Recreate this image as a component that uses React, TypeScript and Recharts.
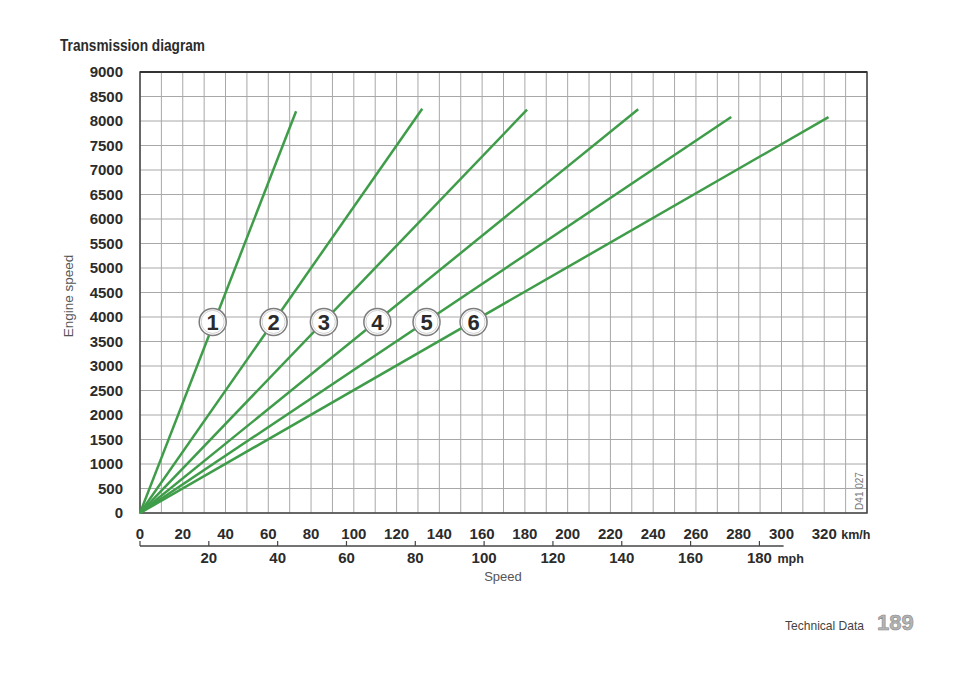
import React from "react"
import { ComposedChart, Line, Scatter, XAxis, YAxis, CartesianGrid, ReferenceArea, ReferenceLine } from "recharts"

// speed grid (km/h) - a line every 10, a label every 20
const KMH_TICKS = [0, 10, 20, 30, 40, 50, 60, 70, 80, 90, 100, 110, 120, 130, 140, 150, 160, 170, 180, 190, 200, 210, 220, 230, 240, 250, 260, 270, 280, 290, 300, 310, 320, 330, 340]
const KMH_LABELS = [0, 20, 40, 60, 80, 100, 120, 140, 160, 180, 200, 220, 240, 260, 280, 300, 320]
const MPH_TICKS = [0, 20, 40, 60, 80, 100, 120, 140, 160, 180]
const RPM_TICKS = [0, 500, 1000, 1500, 2000, 2500, 3000, 3500, 4000, 4500, 5000, 5500, 6000, 6500, 7000, 7500, 8000, 8500, 9000]

// gear lines run from the origin up to the cut-off point
const GEARS = ["1", "2", "3", "4", "5", "6"]
const GEAR_END_KMH = [73, 132, 181, 233, 276.5, 322]
const GEAR_END_RPM = [8200, 8250, 8230, 8240, 8080, 8080]
// numbered badges sitting on each line
const BADGE_KMH = [34, 62.5, 86, 111, 134, 156]
const BADGE_RPM = [3900, 3900, 3900, 3900, 3900, 3900]

const KMH_MAX = 340
const RPM_MAX = 9000
const KMH_PER_MPH = 1.609344
const MPH_MAX = KMH_MAX / KMH_PER_MPH
const MPH_LINE_END_KMH = 301

const W = 960
const H = 673
const MARGIN = { top: 72, right: 93, bottom: 97, left: 40 }
const YAXIS_W = 100
const PLOT_W = W - MARGIN.left - MARGIN.right - YAXIS_W

const GREEN = "#3f9d4a"
const INK = "#2b2b2b"
const FONT = "'Liberation Sans', Arial, sans-serif"

const gearData = GEARS.map((g, i) => [
  { kmh: 0, rpm: 0 },
  { kmh: GEAR_END_KMH[i], rpm: GEAR_END_RPM[i] },
])
const badgeData = GEARS.map((g, i) => ({ kmh: BADGE_KMH[i], rpm: BADGE_RPM[i], gear: g }))
// invisible series so the mph scale has a domain to work with
const mphSpan = [{ mph: 0, rpm: 0 }, { mph: MPH_MAX, rpm: 0 }]

function KmhTick({ x, y, payload }: any) {
  const v = payload.value
  if (!KMH_LABELS.includes(v)) return <g />
  return (
    <g>
      <text x={x} y={y + 26} textAnchor="middle" fontSize={15} fontWeight={700} fill={INK}>{v}</text>
      {v === 320 && <text x={x + 17} y={y + 26} fontSize={12.5} fontWeight={700} fill={INK}>km/h</text>}
    </g>
  )
}

function MphTick({ x, y, payload }: any) {
  const v = payload.value
  return (
    <g>
      <line x1={x} x2={x} y1={y} y2={y - 5} stroke="#444" strokeWidth={1.2} />
      {v > 0 && <text x={x} y={y + 17} textAnchor="middle" fontSize={15} fontWeight={700} fill={INK}>{v}</text>}
      {v === 180 && <text x={x + 18} y={y + 17} fontSize={12.5} fontWeight={700} fill={INK}>mph</text>}
    </g>
  )
}

function Badge({ cx, cy, payload }: any) {
  return (
    <g>
      <circle cx={cx} cy={cy} r={13.5} fill="#fff" stroke="#7d7d7d" strokeWidth={1.5} />
      <circle cx={cx} cy={cy} r={11.5} fill="none" stroke="#d0d0d0" strokeWidth={1} />
      <text x={cx} y={cy + 8} textAnchor="middle" fontSize={22} fontWeight={700} fill={INK}>{payload.gear}</text>
    </g>
  )
}

export default function App() {
  return (
    <div style={{ position: "absolute", left: 0, top: 0, width: W, height: H, background: "#fff", fontFamily: FONT }}>
      <ComposedChart width={W} height={H} margin={MARGIN}>
        <CartesianGrid stroke="#a8a8a8" strokeWidth={1} xAxisId="kmh" />
        <XAxis
          xAxisId="kmh"
          dataKey="kmh"
          type="number"
          domain={[0, KMH_MAX]}
          ticks={KMH_TICKS}
          interval={0}
          height={33}
          axisLine={false}
          tickLine={false}
          tickSize={0}
          tickMargin={0}
          tick={<KmhTick />}
        />
        <XAxis
          xAxisId="mph"
          dataKey="mph"
          type="number"
          domain={[0, MPH_MAX]}
          ticks={MPH_TICKS}
          interval={0}
          height={30}
          axisLine={{ stroke: "#444", strokeWidth: 1.5, strokeDasharray: `${(MPH_LINE_END_KMH / KMH_MAX) * PLOT_W} 2000` }}
          tickLine={false}
          tickSize={0}
          tickMargin={0}
          tick={<MphTick />}
        />
        <YAxis
          dataKey="rpm"
          type="number"
          domain={[0, RPM_MAX]}
          ticks={RPM_TICKS}
          interval={0}
          width={YAXIS_W}
          axisLine={false}
          tickLine={false}
          tickSize={0}
          tickMargin={17}
          tick={{ fontSize: 15, fontWeight: 700, fill: INK }}
        />
        <ReferenceArea xAxisId="kmh" x1={0} x2={KMH_MAX} y1={0} y2={RPM_MAX} fill="none" stroke="#444" strokeWidth={1.5} />
        <ReferenceLine xAxisId="kmh" y={RPM_MAX} stroke="#333" strokeWidth={2.2} />
        <Line
          xAxisId="mph"
          data={mphSpan}
          dataKey="rpm"
          stroke="none"
          dot={false}
          activeDot={false}
          legendType="none"
          isAnimationActive={false}
        />
        {gearData.map((d, i) => (
          <Line
            key={GEARS[i]}
            xAxisId="kmh"
            data={d}
            dataKey="rpm"
            type="linear"
            stroke={GREEN}
            strokeWidth={2.5}
            dot={false}
            activeDot={false}
            isAnimationActive={false}
          />
        ))}
        <Scatter xAxisId="kmh" data={badgeData} dataKey="rpm" shape={<Badge />} isAnimationActive={false} />
      </ComposedChart>
      <svg width={W} height={H} style={{ position: "absolute", left: 0, top: 0, pointerEvents: "none" }}>
        <text x={60} y={51} fontSize={16} fontWeight={700} fill={INK} textLength={145} lengthAdjust="spacingAndGlyphs">Transmission diagram</text>
        <text x={73} y={296} transform="rotate(-90 73 296)" textAnchor="middle" fontSize={13.5} fill="#555">Engine speed</text>
        <text x={503} y={581} textAnchor="middle" fontSize={13} fill="#555">Speed</text>
        <text x={863} y={491} transform="rotate(-90 863 491)" textAnchor="middle" fontSize={10} fill="#777">D41 027</text>
        <text x={785} y={630} fontSize={13} fill="#444" textLength={79} lengthAdjust="spacingAndGlyphs">Technical Data</text>
        <text x={877} y={630} fontSize={22} fontWeight={700} fill="#b4b4b4" stroke="#8a8a8a" strokeWidth={0.6}>189</text>
      </svg>
    </div>
  )
}
